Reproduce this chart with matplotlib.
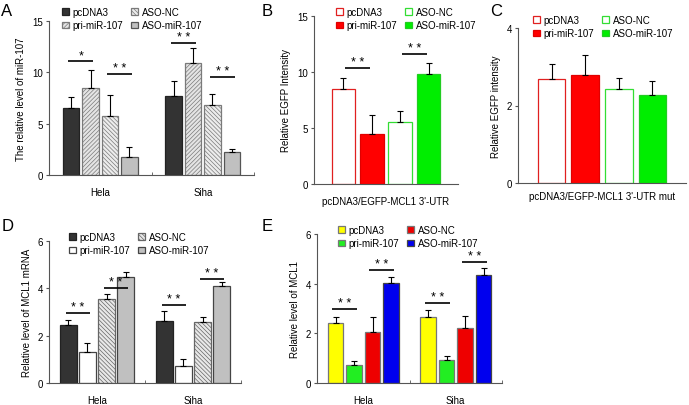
"""Five-panel bar figure (miR-107 / MCL1)."""
import matplotlib
matplotlib.use("Agg")
import matplotlib.pyplot as plt

plt.rcParams['font.family'] = ['Liberation Sans', 'DejaVu Sans']
plt.rcParams['hatch.linewidth'] = 0.5

W, H = 689, 406

# ---- data ----
groups = ['Hela', 'Siha']
labels = ['pcDNA3', 'pri-miR-107', 'ASO-NC', 'ASO-miR-107']

a_hela_mean = [6.5, 8.5, 5.7, 1.8]
a_hela_err = [1.1, 1.7, 2.1, 0.9]
a_siha_mean = [7.7, 10.9, 6.8, 2.2]
a_siha_err = [1.5, 1.5, 1.1, 0.3]
a_sig = [(0, 0, 1, 11.1, '*'), (0, 2, 3, 9.8, '* *'),
         (1, 0, 1, 12.9, '* *'), (1, 2, 3, 9.5, '* *')]

b_mean = [8.5, 4.5, 5.5, 9.85]
b_err = [1.0, 1.7, 1.0, 0.95]
b_sig = [(0, 0, 1, 10.4, '* *'), (0, 2, 3, 11.6, '* *')]

c_mean = [2.68, 2.8, 2.42, 2.26]
c_err = [0.4, 0.5, 0.29, 0.38]

d_hela_mean = [2.43, 1.33, 3.55, 4.5]
d_hela_err = [0.25, 0.37, 0.19, 0.17]
d_siha_mean = [2.62, 0.72, 2.57, 4.08]
d_siha_err = [0.42, 0.29, 0.23, 0.18]
d_sig = [(0, 0, 1, 2.96, '* *'), (0, 2, 3, 4.03, '* *'),
         (1, 0, 1, 3.3, '* *'), (1, 2, 3, 4.39, '* *')]

e_hela_mean = [2.4, 0.74, 2.06, 4.04]
e_hela_err = [0.24, 0.14, 0.59, 0.22]
e_siha_mean = [2.65, 0.91, 2.21, 4.35]
e_siha_err = [0.3, 0.19, 0.48, 0.28]
e_sig = [(0, 0, 1, 2.96, '* *'), (0, 2, 3, 4.54, '* *'),
         (1, 0, 1, 3.23, '* *'), (1, 2, 3, 4.89, '* *')]

# bar styles per panel: (facecolor, edgecolor, hatch)
grey_styles = [('#333333', '#222222', None),
               ('#e4e4e4', '#7a7a7a', '////////'),
               ('#ececec', '#7a7a7a', '\\\\\\\\\\\\\\\\'),
               ('#c0c0c0', '#555555', None)]
d_styles = [('#333333', '#222222', None),
            ('white', '#444444', None),
            ('#e8e8e8', '#666666', '\\\\\\\\\\\\\\\\'),
            ('#c0c0c0', '#444444', None)]
egfp_styles = [('white', '#e02020', None),
               ('#ff0000', '#e00000', None),
               ('white', '#33dd33', None),
               ('#00ee00', '#22cc22', None)]
e_styles = [('#ffff00', '#777777', None),
            ('#22ee22', '#777777', None),
            ('#ee0000', '#777777', None),
            ('#0000ee', '#444444', None)]

fig = plt.figure(figsize=(W / 100, H / 100), dpi=100)


def add_ax(left, top, right, bottom):
    return fig.add_axes([left / W, 1 - bottom / H,
                         (right - left) / W, (bottom - top) / H])


def style_ax(ax, ymax, yticks, ylabel):
    for s in ['top', 'right']:
        ax.spines[s].set_visible(False)
    for s in ['left', 'bottom']:
        ax.spines[s].set_color('#555555')
        ax.spines[s].set_linewidth(0.8)
    ax.set_ylim(0, ymax)
    ax.set_yticks(yticks)
    ax.tick_params(axis='y', labelsize=7, length=2.5, width=0.8,
                   color='#555555', pad=2)
    ax.set_ylabel(ylabel, fontsize=7, labelpad=4)


def draw_bars(ax, means, errs, styles, width, step, centers):
    handles = []
    for i in range(4):
        xs = [c + (i - 1.5) * step for c in centers]
        ys = [m[i] for m in means]
        es = [e[i] for e in errs]
        fc, ec, hatch = styles[i]
        bc = ax.bar(xs, ys, width, color=fc, edgecolor=ec, hatch=hatch,
                    linewidth=0.9, label=labels[i], zorder=2)
        ax.errorbar(xs, ys, yerr=[[0] * len(es), es], fmt='none',
                    ecolor='black', elinewidth=0.8, capsize=2,
                    capthick=0.8, zorder=3)
        handles.append(bc)
    return handles


def draw_sig(ax, sig, centers, step, half):
    for g, i, j, y, txt in sig:
        xi = centers[g] + (i - 1.5) * step
        xj = centers[g] + (j - 1.5) * step
        mid = (xi + xj) / 2
        ax.plot([mid - half, mid + half], [y, y], color='black', lw=1.2,
                solid_capstyle='butt', zorder=3)
        ax.text(mid, y, txt, ha='center', va='bottom', fontsize=9,
                zorder=3)


def add_legend(ax, handles, x_px, y_px):
    ax.legend(handles=handles, loc='upper left', ncol=2,
              bbox_to_anchor=(x_px / W, 1 - y_px / H),
              bbox_transform=fig.transFigure, frameon=False, fontsize=7,
              handlelength=0.7, handleheight=0.7, handletextpad=0.4,
              labelspacing=0.35, columnspacing=0.8, borderpad=0,
              borderaxespad=0)


def group_axis(ax):
    ax.set_xlim(-0.5, 1.5)
    ax.set_xticks([0, 1])
    ax.set_xticklabels(groups, fontsize=7)
    ax.set_xticks([0.5, 1.5], minor=True)
    ax.tick_params(axis='x', which='major', length=0, pad=9)
    ax.tick_params(axis='x', which='minor', length=2.5, direction='in',
                   color='#555555')


# ---- A ----
ax = add_ax(49, 22, 254, 176)
centers = [0, 1]
h = draw_bars(ax, [a_hela_mean, a_siha_mean], [a_hela_err, a_siha_err],
              grey_styles, 0.165, 0.19, centers)
draw_sig(ax, a_sig, centers, 0.19, 0.12)
style_ax(ax, 15, [0, 5, 10, 15], 'The relative level of miR-107')
group_axis(ax)
add_legend(ax, h, 62, 8)
fig.text(1 / W, 1 - 12 / H, 'A', fontsize=12, va='center')

# ---- B ----
ax = add_ax(314, 17, 458, 185)
h = draw_bars(ax, [b_mean], [b_err], egfp_styles, 0.163, 0.197, [0])
draw_sig(ax, b_sig, [0], 0.197, 0.085)
style_ax(ax, 15, [0, 5, 10, 15], 'Relative EGFP Intensity')
ax.set_xlim(-0.5, 0.5)
ax.set_xticks([0])
ax.set_xticklabels(['pcDNA3/EGFP-MCL1 3\'-UTR'], fontsize=7)
ax.tick_params(axis='x', length=0, pad=9)
add_legend(ax, h, 336, 8)
fig.text(262 / W, 1 - 12 / H, 'B', fontsize=12, va='center')

# ---- C ----
ax = add_ax(518, 29, 686, 184)
h = draw_bars(ax, [c_mean], [c_err], egfp_styles, 0.164, 0.2, [0])
style_ax(ax, 4, [0, 2, 4], 'Relative EGFP intensity')
ax.set_xlim(-0.5, 0.5)
ax.set_xticks([0])
ax.set_xticklabels(['pcDNA3/EGFP-MCL1 3\'-UTR mut'], fontsize=7)
ax.tick_params(axis='x', length=0, pad=6)
add_legend(ax, h, 533, 16)
fig.text(490 / W, 1 - 12 / H, 'C', fontsize=12, va='center')

# ---- D ----
ax = add_ax(49, 242, 241, 384)
h = draw_bars(ax, [d_hela_mean, d_siha_mean], [d_hela_err, d_siha_err],
              d_styles, 0.17, 0.198, centers)
draw_sig(ax, d_sig, centers, 0.198, 0.13)
style_ax(ax, 6, [0, 2, 4, 6], 'Relative level of MCL1 mRNA')
group_axis(ax)
add_legend(ax, h, 69, 233)
fig.text(2 / W, 1 - 227 / H, 'D', fontsize=12, va='center')

# ---- E ----
ax = add_ax(317, 235, 502, 384)
h = draw_bars(ax, [e_hela_mean, e_siha_mean], [e_hela_err, e_siha_err],
              e_styles, 0.168, 0.2, centers)
draw_sig(ax, e_sig, centers, 0.2, 0.135)
style_ax(ax, 6, [0, 2, 4, 6], 'Relative level of MCL1')
group_axis(ax)
add_legend(ax, h, 338, 226)
fig.text(262 / W, 1 - 227 / H, 'E', fontsize=12, va='center')

fig.savefig('out.png', dpi=100, facecolor='white')
